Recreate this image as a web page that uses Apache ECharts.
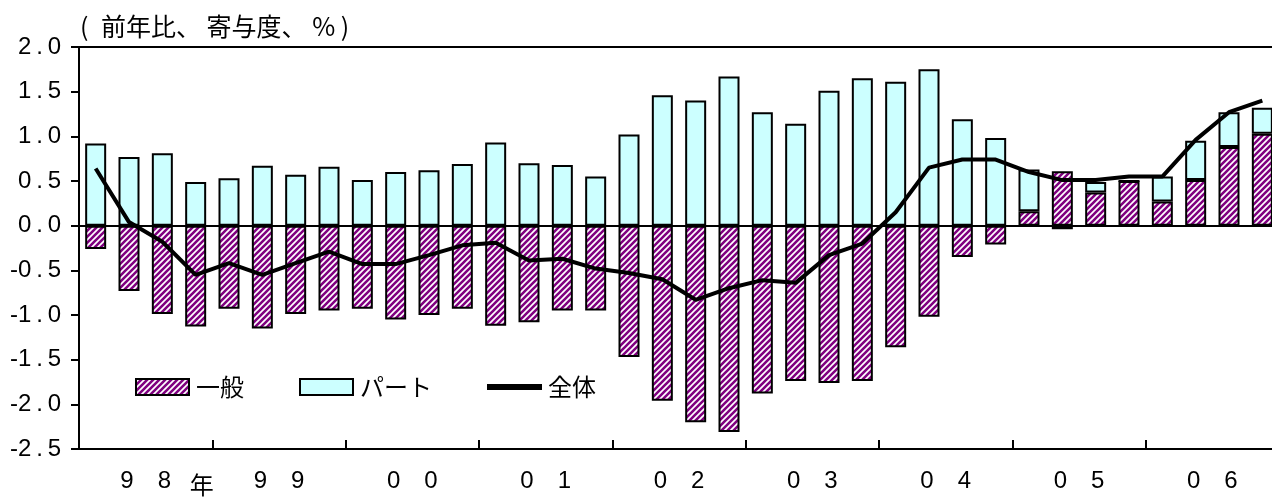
<!DOCTYPE html>
<html>
<head>
<meta charset="utf-8">
<script src="https://cdn.jsdelivr.net/npm/echarts@6/dist/echarts.min.js"></script>
<style>
html,body{margin:0;padding:0;background:#fff;}
#c{width:1272px;height:498px;}
</style>
</head>
<body>
<div id="c"></div>
<script>
// ---- data ----
var quarters = ['98Q1','98Q2','98Q3','98Q4','99Q1','99Q2','99Q3','99Q4','00Q1','00Q2','00Q3','00Q4',
  '01Q1','01Q2','01Q3','01Q4','02Q1','02Q2','02Q3','02Q4','03Q1','03Q2','03Q3','03Q4',
  '04Q1','04Q2','04Q3','04Q4','05Q1','05Q2','05Q3','05Q4','06Q1','06Q2','06Q3','06Q4'];
var yearLabels = ['9\u30008','9\u30009','0\u30000','0\u30001','0\u30002','0\u30003','0\u30004','0\u30005','0\u30006'];
var ippan = [-0.26,-0.73,-0.99,-1.13,-0.93,-1.15,-0.99,-0.95,-0.93,-1.05,-1.00,-0.93,
  -1.12,-1.08,-0.95,-0.95,-1.47,-1.96,-2.20,-2.31,-1.88,-1.74,-1.76,-1.74,
  -1.36,-1.02,-0.35,-0.21,0.16,0.61,0.37,0.50,0.27,0.51,0.88,1.03];
var part = [0.92,0.77,0.81,0.49,0.53,0.67,0.57,0.66,0.51,0.60,0.62,0.69,
  0.93,0.70,0.68,0.55,1.02,1.46,1.40,1.67,1.27,1.14,1.51,1.65,
  1.61,1.75,1.19,0.98,0.47,-0.04,0.12,0.00,0.28,0.44,0.39,0.29];
var total = [0.64,0.04,-0.18,-0.55,-0.42,-0.55,-0.42,-0.29,-0.43,-0.43,-0.33,-0.22,
  -0.19,-0.39,-0.37,-0.48,-0.53,-0.60,-0.83,-0.70,-0.61,-0.64,-0.33,-0.20,
  0.15,0.65,0.74,0.74,0.60,0.51,0.51,0.55,0.55,0.96,1.27,1.40];
var seriesNames = ['一般','パート','全体'];
var titleText = '(\u2002前年比、 寄与度、 % )';

// ---- hatch pattern ----
var pc = document.createElement('canvas');
pc.width = 6; pc.height = 6;
var g = pc.getContext('2d');
g.fillStyle = '#ffffff'; g.fillRect(0,0,6,6);
g.strokeStyle = '#800080'; g.lineWidth = 2.6;
g.beginPath();
g.moveTo(-1,7); g.lineTo(7,-1);
g.moveTo(-4,4); g.lineTo(4,-4);
g.moveTo(2,10); g.lineTo(10,2);
g.stroke();

var CJK = '"Noto Sans CJK JP", sans-serif';
var LAT = '"Liberation Sans", Arial, "Noto Sans CJK JP", sans-serif';

var chart = echarts.init(document.getElementById('c'));
chart.setOption({
  animation: false,
  backgroundColor: '#fff',
  title: {
    text: titleText, left: 80, top: 14, padding: 0,
    textStyle: {fontFamily: CJK, fontSize: 25, fontWeight: 'normal', color: '#000'}
  },
  legend: {
    data: [
      {name: seriesNames[0], icon: 'rect'},
      {name: seriesNames[1], icon: 'rect'},
      {name: seriesNames[2], icon: 'path://M0,0L53,0L53,4L0,4Z'}
    ],
    left: 135, top: 375, padding: 0,
    itemWidth: 53, itemHeight: 16, itemGap: 55,
    textStyle: {fontFamily: CJK, fontSize: 24, color: '#000', padding: [0,0,0,2]},
    itemStyle: {borderWidth: 2, borderColor: '#000'},
    lineStyle: {width: 4}
  },
  grid: {
    left: 79, top: 47, width: 1200, bottom: 49, outerBoundsMode: 'none',
    show: true, borderColor: '#000', borderWidth: 2, backgroundColor: 'transparent'
  },
  xAxis: [{
    type: 'category', data: quarters, position: 'bottom',
    axisLine: {show: false}, axisTick: {show: false},
    axisLabel: {interval: 0, margin: 24, fontFamily: CJK, fontSize: 24, color: '#000',
      padding: [0,0,0,12],
      formatter: function (v, i) { return i === 3 ? '年' : ''; }}
  }, {
    type: 'category', data: yearLabels, position: 'bottom',
    axisLine: {show: true, lineStyle: {color: '#000', width: 2}},
    axisTick: {show: true, inside: true, length: 9, interval: 0, lineStyle: {color: '#000', width: 2}},
    axisLabel: {interval: 0, margin: 20, fontFamily: LAT, fontSize: 24, color: '#000'}
  }],
  yAxis: {
    type: 'value', min: -2.5, max: 2.0, interval: 0.5,
    axisLine: {show: true, lineStyle: {color: '#000', width: 2}},
    axisTick: {show: true, length: 8, lineStyle: {color: '#000', width: 2}},
    splitLine: {show: false},
    axisLabel: {margin: 18, fontFamily: LAT, fontSize: 24, color: '#000',
      formatter: function (v) { return v.toFixed(1).replace('.', '\u2009.\u2009'); }}
  },
  series: [{
    name: seriesNames[0], type: 'bar', stack: 's', data: ippan, barWidth: 21,
    itemStyle: {color: {image: pc, repeat: 'repeat'}, borderColor: '#000', borderWidth: 2},
    markLine: {silent: true, symbol: 'none', label: {show: false},
      lineStyle: {color: '#000', width: 2, type: 'solid'}, data: [{yAxis: 0}]}
  }, {
    name: seriesNames[1], type: 'bar', stack: 's', data: part, barWidth: 21,
    itemStyle: {color: '#CCFFFF', borderColor: '#000', borderWidth: 2}
  }, {
    name: seriesNames[2], type: 'line', data: total, symbol: 'none', z: 5,
    lineStyle: {color: '#000', width: 4}, itemStyle: {color: '#000'}
  }]
});
</script>
</body>
</html>
